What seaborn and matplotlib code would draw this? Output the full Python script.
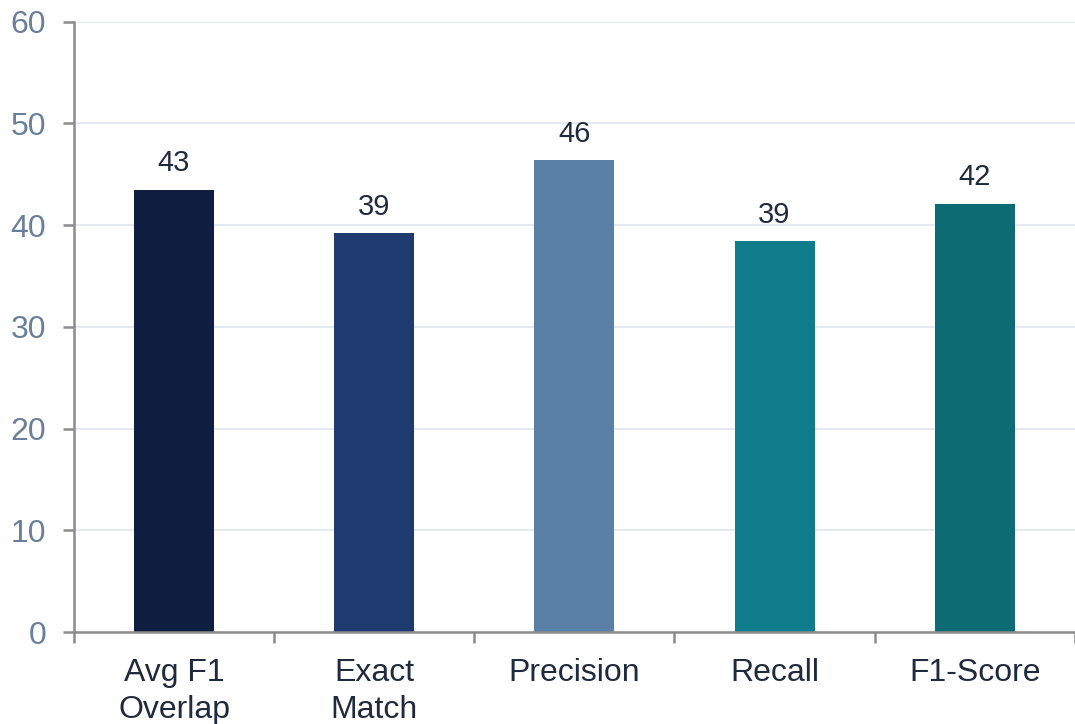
import pandas as pd
import matplotlib
matplotlib.use("Agg")
import matplotlib.pyplot as plt
import seaborn as sns

categories = ["Avg F1\nOverlap", "Exact\nMatch", "Precision", "Recall", "F1-Score"]
scores = [43.5, 39.2, 46.4, 38.4, 42.1]
score_labels = ["43", "39", "46", "39", "42"]
colors = ["#0f1d40", "#1f3a6e", "#5b80a8", "#0e7c8a", "#0d6b73"]

df = pd.DataFrame({"metric": categories, "score": scores})

sns.set_style("white")
plt.rcParams["font.family"] = ["Liberation Sans", "DejaVu Sans"]

fig = plt.figure(figsize=(10.75, 7.24), dpi=100)
ax = fig.add_axes([0.0688, 0.127, 0.931, 0.843])

sns.barplot(data=df, x="metric", y="score", hue="metric", palette=colors,
            width=0.4, legend=False, saturation=1, linewidth=0, ax=ax)

# value labels above bars
for i, (v, lab) in enumerate(zip(scores, score_labels)):
    ax.annotate(lab, (i, v), xytext=(0, 9), textcoords="offset points",
                ha="center", va="bottom", fontsize=21, color="#1f2a3c")

ax.set_ylim(0, 60)
ax.set_xlim(-0.5, 4.5)
ax.set_yticks(range(0, 61, 10))
ax.yaxis.grid(True, color="#dfe6ee", linewidth=1.2)
ax.set_axisbelow(True)

for side in ["top", "right"]:
    ax.spines[side].set_visible(False)
for side in ["left", "bottom"]:
    ax.spines[side].set_color("#8c8c8c")
    ax.spines[side].set_linewidth(1.8)

ax.tick_params(axis="y", left=True, length=8, width=1.8, color="#8c8c8c",
               labelsize=23, labelcolor="#6a7f99", pad=12)
ax.tick_params(axis="x", which="major", length=0, labelsize=23,
               labelcolor="#1f2a3c", pad=19)
for t in ax.get_xticklabels():
    t.set_linespacing(1.3)
ax.set_xticks([x - 0.5 for x in range(6)], minor=True)
ax.tick_params(axis="x", which="minor", bottom=True, length=8, width=1.8,
               color="#8c8c8c")
ax.set_xlabel("")
ax.set_ylabel("")

plt.savefig("out.png", dpi=100)
